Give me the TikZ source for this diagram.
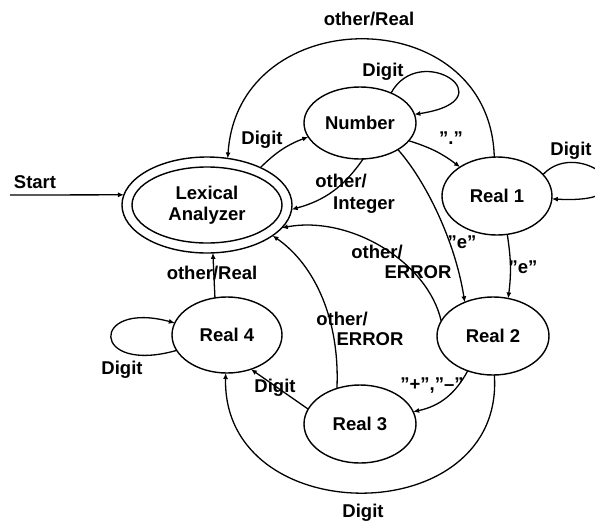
\documentclass[tikz,border=0pt]{standalone}
\usepackage{fontspec}
\setmainfont{Liberation Sans}
\usetikzlibrary{shapes.geometric,arrows.meta}
\begin{document}
\begin{tikzpicture}[x=1pt,y=1pt,
  every node/.style={font=\fontsize{18.5}{21}\selectfont\bfseries},
  state/.style={draw, ellipse, line width=1.4pt, inner sep=0pt, outer sep=0pt, align=center},
  edge/.style={line width=1.3pt, -{Latex[length=6pt,width=5pt]}},
  lbl/.style={anchor=base, inner sep=0pt}]
\useasboundingbox (0,0) rectangle (595,-520);

% states
\node[state, minimum width=170pt, minimum height=96pt] (la) at (207,-205) {Lexical\\Analyzer};
\draw[line width=1.4pt] (la.center) ellipse [x radius=75pt, y radius=38pt];
\node[state, minimum width=112pt, minimum height=72pt] (num) at (360,-123) {Number};
\node[state, minimum width=110pt, minimum height=78pt] (r1) at (497,-196) {Real 1};
\node[state, minimum width=112pt, minimum height=78pt] (r2) at (493,-336) {Real 2};
\node[state, minimum width=112pt, minimum height=78pt] (r3) at (360,-424) {Real 3};
\node[state, minimum width=110pt, minimum height=76pt] (r4) at (227,-335) {Real 4};

% entry
\coordinate (start) at (10,-195);
\node[lbl] (tstart) at (35,-188) {Start};
\draw[edge] (start) -- (la.173);

% transitions
\draw[edge] (r1.94) .. controls (490,0) and (238,0) .. (la.66);
\node[lbl] (t1) at (369,-25) {other/Real};

\draw[edge] (num.44) .. controls (420,-40) and (510,-100) .. (num.9);
\node[lbl] (t2) at (383,-76) {Digit};

\draw[edge] (la.35) to[bend left=12] (num.195);
\node[lbl] (t3) at (262,-144) {Digit};

\draw[edge] (num.-20) to[bend left=10] (r1.142);
\node[lbl] (t4) at (451,-144) {"."};

\draw[edge] (num.-85) to[bend left=20] (la.-3);
\node[lbl] (t5a) at (341,-187) {other/};
\node[lbl] (t5b) at (364,-209) {Integer};

\draw[edge] (r1.25) .. controls (580,-135) and (660,-205) .. (r1.-3);
\node[lbl] (t6) at (571,-155) {Digit};

\draw[edge] (r2.164) .. controls (428,-262) and (350,-215) .. (la.-17);
\node[lbl] (t7a) at (377,-258) {other/};
\node[lbl] (t7b) at (418,-278) {ERROR};

\draw[edge] (r3.123) .. controls (340,-320) and (315,-265) .. (la.-25);
\node[lbl] (t8a) at (342,-325) {other/};
\node[lbl] (t8b) at (370,-345) {ERROR};

\draw[edge] (r4.108) -- (la.-83);
\node[lbl] (t9) at (212,-279) {other/Real};

\draw[edge] (r1.-75) to[bend left=8] (r2.68);
\node[lbl] (t10) at (523,-273) {"e"};

\draw[edge] (num.-35) .. controls (425,-180) and (455,-240) .. (r2.130);
\node[lbl] (t11) at (462,-248) {"e"};

\draw[edge] (r2.234) to[bend left=25] (r3.13);
\node[lbl] (t12) at (432,-390) {"+","--"};

\draw[edge] (r3.164) -- (r4.-55);
\node[lbl] (t13) at (275,-392) {Digit};

\draw[edge] (r2.-88) .. controls (505,-532) and (222,-532) .. (r4.-92);
\node[lbl] (t14) at (363,-517) {Digit};

\draw[edge] (r4.197) .. controls (90,-375) and (90,-300) .. (r4.167);
\node[lbl] (t15) at (122,-374) {Digit};
\end{tikzpicture}
\end{document}
